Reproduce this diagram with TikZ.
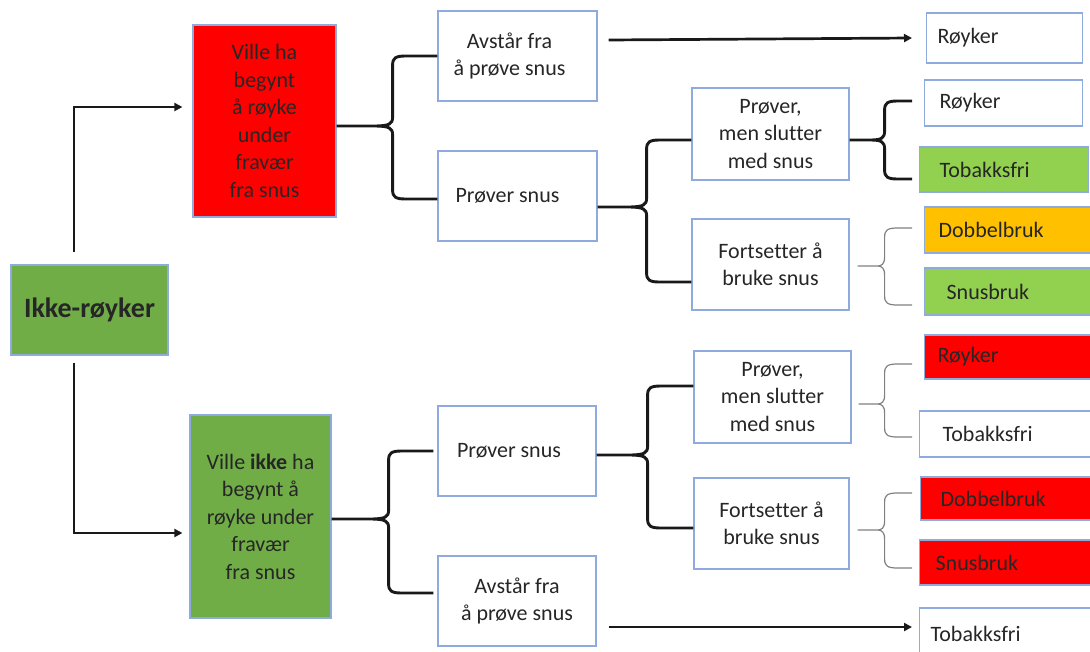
\documentclass[tikz,border=0pt]{standalone}
\usepackage{fontspec}
\setmainfont{Carlito}[Ligatures=NoCommon]
\usetikzlibrary{arrows.meta,calc}
\definecolor{bord}{HTML}{8FAADC}
\definecolor{gdark}{HTML}{70AD47}
\definecolor{glight}{HTML}{92D050}
\definecolor{orng}{HTML}{FFC000}
\definecolor{txt}{HTML}{262626}
\newcommand\brc[6]{\draw[#1] let \p1=(#2), \p2=(#3), \p3=(#4), \n1={\x1+#5pt} in
  (\p1) -- (\n1-#6pt,\y1) .. controls (\n1-3pt,\y1) and (\n1,\y1+2pt) .. (\n1,\y1+9pt)
  -- (\n1,\y2-9pt) .. controls (\n1,\y2-2pt) and (\n1+3pt,\y2) .. (\n1+13pt,\y2) -- (\p2)
  (\n1-#6pt,\y1) .. controls (\n1-3pt,\y1) and (\n1,\y1-2pt) .. (\n1,\y1-9pt)
  -- (\n1,\y3+9pt) .. controls (\n1,\y3+2pt) and (\n1+3pt,\y3) .. (\n1+13pt,\y3) -- (\p3);}
\tikzset{
  every node/.style={text=txt, font=\fontsize{22}{27.5}\selectfont},
  box/.style={draw=bord, line width=1.2pt, rectangle, align=center, inner sep=0pt},
  rbox/.style={box, align=left, anchor=west},
  brcthick/.style={line width=2.9pt, black!90},
  brcthin/.style={line width=1.2pt, gray},
  arr/.style={line width=2.7pt, black!90, -{Triangle[length=8pt,width=8pt]}}
}
\begin{document}
\begin{tikzpicture}[x=1pt,y=-1pt]
\path[use as bounding box] (0,0) rectangle (1090,651);
\clip (0,0) rectangle (1090,651);
% left
\node[box, fill=gdark, minimum width=157pt, minimum height=90pt, font=\fontsize{28}{34}\selectfont\bfseries] (ikke) at (89.5,310) {Ikke-røyker};
\node[box, fill=red, minimum width=143pt, minimum height=192pt] (red) at (264.5,121) {Ville ha\\begynt\\å røyke\\under\\fravær\\fra snus};
\node[box, fill=gdark, minimum width=141pt, minimum height=203pt] (g2) at (260.5,516.5) {Ville \textbf{ikke} ha\\begynt å\\røyke under\\fravær\\fra snus};
% middle
\node[box, minimum width=159pt, minimum height=90pt] (A1) at (517.5,56) {Avstår fra\hspace*{16pt}\\å prøve snus\hspace*{16pt}};
\node[box, minimum width=159pt, minimum height=90pt] (P1) at (517.5,196) {Prøver snus\hspace*{20pt}};
\node[box, minimum width=157pt, minimum height=92pt] (M1) at (770.5,134) {Prøver,\\men slutter\\med snus};
\node[box, minimum width=157pt, minimum height=91pt] (M2) at (770.5,264.5) {Fortsetter å\\bruke snus};
\node[box, minimum width=158pt, minimum height=90pt] (P2) at (517,451) {Prøver snus\hspace*{16pt}};
\node[box, minimum width=158pt, minimum height=90pt] (A2) at (517,601) {Avstår fra\\å prøve snus};
\node[box, minimum width=157pt, minimum height=92pt] (M3) at (772.5,397) {Prøver,\\men slutter\\med snus};
\node[box, minimum width=155pt, minimum height=91pt] (M4) at (771.5,523.5) {Fortsetter å\\bruke snus};
% right
\node[rbox, minimum width=156pt, minimum height=50pt, inner xsep=11pt, text width=134pt] (R1) at (926,38) {Røyker};
\node[rbox, minimum width=158pt, minimum height=46pt, inner xsep=15pt, text width=128pt] (R2) at (924,103) {Røyker};
\node[rbox, fill=glight, minimum width=169pt, minimum height=45pt, inner xsep=20pt, text width=129pt] (R3) at (919,169.5) {Tobakksfri};
\node[rbox, fill=orng, minimum width=171pt, minimum height=46pt, inner xsep=14pt, text width=143pt] (R4) at (924,230) {Dobbelbruk};
\node[rbox, fill=glight, minimum width=171pt, minimum height=47pt, inner xsep=22pt, text width=127pt] (R5) at (924,291.5) {Snusbruk};
\node[rbox, fill=red, minimum width=171pt, minimum height=44pt, inner xsep=13pt, text width=145pt] (R6) at (924,357) {Røyker};
\node[rbox, minimum width=176pt, minimum height=46pt, inner xsep=23pt, text width=130pt] (R7) at (919,434) {Tobakksfri};
\node[rbox, fill=red, minimum width=175pt, minimum height=43pt, inner xsep=20pt, text width=135pt] (R8) at (920,498.5) {Dobbelbruk};
\node[rbox, fill=red, minimum width=176pt, minimum height=45pt, inner xsep=16pt, text width=144pt] (R9) at (919,562.5) {Snusbruk};
\node[rbox, minimum width=176pt, minimum height=52pt, inner xsep=11pt, text width=154pt] (R10) at (919,634) {Tobakksfri};
% arrows
\draw[arr] ([xshift=-15.5pt,yshift=12pt]ikke.north) |- ([xshift=-10pt,yshift=14pt]red.west);
\draw[arr] ([xshift=-15.5pt,yshift=-7pt]ikke.south) |- ([xshift=-7pt,yshift=-16.5pt]g2.west);
\draw[arr] ([xshift=11pt,yshift=16pt]A1.east) -- ([xshift=-14pt]R1.west);
\draw[arr] ([xshift=12pt,yshift=-26pt]A2.east) -- ([xshift=-7pt,yshift=7pt]R10.west);
% braces
\brc{brcthick}{[yshift=-5pt]red.east}{A1.west}{[yshift=-3pt]P1.west}{56}{19}
\brc{brcthick}{[yshift=-11pt]P1.east}{[yshift=-6pt]M1.west}{[yshift=-17.5pt]M2.west}{49}{19}
\brc{brcthick}{[yshift=-6pt]M1.east}{[xshift=-12pt,yshift=2pt]R2.west}{[xshift=-7pt,yshift=-9.5pt]R3.west}{35}{14}
\brc{brcthin}{[xshift=8pt,yshift=-1.5pt]M2.east}{[xshift=-12pt,yshift=2pt]R4.west}{[xshift=-12pt,yshift=-13.5pt]R5.west}{27}{7}
\brc{brcthick}{[yshift=-2.5pt]g2.east}{[xshift=-4pt]P2.west}{[xshift=-4pt,yshift=8pt]A2.west}{57}{19}
\brc{brcthick}{[yshift=-4pt]P2.east}{[yshift=11pt]M3.west}{[yshift=-4.5pt]M4.west}{51}{19}
\brc{brcthin}{[xshift=7pt,yshift=-7pt]M3.east}{[xshift=-12pt,yshift=-7pt]R6.west}{[xshift=-7pt,yshift=-3pt]R7.west}{26}{7}
\brc{brcthin}{[xshift=8pt,yshift=-6.5pt]M4.east}{[xshift=-8pt,yshift=5.5pt]R8.west}{[xshift=-7pt,yshift=-5.5pt]R9.west}{27}{7}
\end{tikzpicture}
\end{document}
